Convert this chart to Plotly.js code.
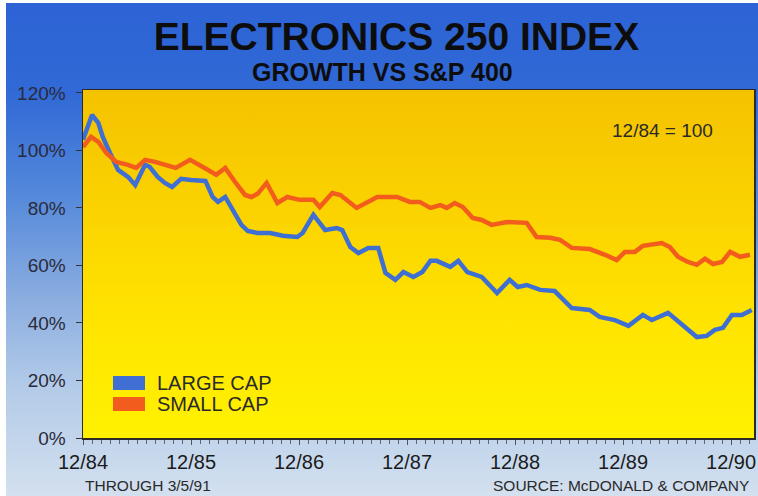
<!DOCTYPE html>
<html>
<head>
<meta charset="utf-8">
<script src="https://cdn.plot.ly/plotly-3.0.1.min.js"></script>
<style>
  html, body { margin: 0; padding: 0; background: #ffffff; }
  #wrap { position: relative; width: 758px; height: 496px; overflow: hidden; background: #ffffff; }
  #bg { position: absolute; left: 6px; top: 3px; right: 0; bottom: 0;
        background: linear-gradient(to bottom, #2d63d5 0%, #3169d6 18%, #5287da 38%, #86aadf 58%, #b3cbe8 78%, #d3e0ef 100%); }
  #chart { position: absolute; left: 0; top: 0; width: 758px; height: 496px; }
</style>
</head>
<body>
<div id="wrap"><div id="bg"></div><div id="chart"></div></div>
<script>
// months since 12/84
const largeMonths = [0,1.0,1.7,2.2,3.0,3.9,5.0,5.8,6.9,7.4,8.3,9.1,9.9,10.9,12.0,13.6,14.4,15.0,15.8,16.4,17.6,18.3,19.4,20.8,22.2,23.8,24.4,25.6,26.9,28.2,28.8,29.7,30.6,31.7,32.8,33.6,34.7,35.6,36.7,37.7,38.6,39.3,40.8,41.7,42.7,44.3,46.0,47.4,48.3,49.3,50.8,52.4,54.3,56.3,57.4,59.1,60.6,62.2,63.2,65.0,66.6,68.2,69.3,70.2,71.1,72.1,73.2,74.3];
const largeCap = [103.7,112.3,109.6,104.7,99.1,93.2,90.8,88.0,95.0,94.3,90.8,88.7,87.3,90.1,89.7,89.4,83.8,82.1,83.8,80.3,74.1,72.0,71.3,71.3,70.3,69.9,71.3,77.6,72.3,73.0,72.3,66.4,64.3,66.1,66.1,57.4,55.0,57.7,56.0,57.7,61.6,61.6,59.5,61.6,57.7,56.0,50.4,55.0,52.5,53.2,51.5,51.1,45.2,44.5,42.1,41.0,39.0,42.8,41.0,43.5,39.3,35.1,35.5,37.6,38.3,42.8,42.8,44.5];
const smallMonths = [0,0.9,1.7,2.6,3.7,5.0,5.9,6.9,8.0,9.1,10.3,11.9,13.0,13.9,14.8,15.8,16.9,18.0,18.7,19.4,20.4,21.6,22.7,24.1,25.6,26.3,27.7,28.6,30.4,32.7,34.9,36.3,37.4,38.6,39.7,40.4,41.3,42.2,43.3,44.3,45.4,47.1,49.3,50.4,51.9,53.0,54.3,56.3,58.0,59.3,60.2,61.3,62.2,63.2,64.3,65.2,66.1,67.2,68.2,69.1,70.0,71.0,71.9,73.0,74.1];
const smallCap = [101.2,104.7,103.0,99.1,96.0,95.0,93.9,96.7,96.0,95.0,93.9,96.7,95.0,93.2,91.5,93.9,89.0,84.5,83.8,84.9,88.7,81.7,83.8,82.8,82.8,80.3,85.2,84.5,80.0,83.8,83.8,82.1,82.1,80.0,81.0,80.0,81.7,80.3,76.5,75.8,74.1,75.1,74.8,69.9,69.6,68.9,66.1,65.7,63.7,61.9,64.7,64.7,66.8,67.1,67.8,66.4,63.0,61.2,60.2,62.3,60.5,61.2,64.7,63.0,63.7];
const xTickVals = [0,12,24,36,48,60,72];
const xTickText = ['12/84','12/85','12/86','12/87','12/88','12/89','12/90'];
const yTickVals = [0,20,40,60,80,100,120];
const yTickText = ['0%','20%','40%','60%','80%','100%','120%'];
const seriesNames = ['LARGE CAP','SMALL CAP'];

const BLUE = '#3f6fd2';
const ORANGE = '#f25c1c';
const FONT = 'Liberation Sans, Arial, sans-serif';
const INK = '#1b1b1b';

const grad = "<svg xmlns='http://www.w3.org/2000/svg' viewBox='0 0 10 100' width='10' height='100' preserveAspectRatio='none'>" +
  "<defs><linearGradient id='g' x1='0' y1='0' x2='0' y2='1'>" +
  "<stop offset='0' stop-color='#f4c200'/><stop offset='0.35' stop-color='#fbd300'/>" +
  "<stop offset='0.7' stop-color='#ffe600'/><stop offset='1' stop-color='#fff100'/>" +
  "</linearGradient></defs><rect x='0' y='0' width='10' height='100' fill='url(#g)'/></svg>";
const gradURI = 'data:image/svg+xml;charset=utf-8,' + encodeURIComponent(grad);

const traces = [
  { x: largeMonths, y: largeCap, name: seriesNames[0], type: 'scatter', mode: 'lines',
    line: { color: BLUE, width: 4.5 }, showlegend: false, hoverinfo: 'skip' },
  { x: smallMonths, y: smallCap, name: seriesNames[1], type: 'scatter', mode: 'lines',
    line: { color: ORANGE, width: 4.5 }, showlegend: false, hoverinfo: 'skip' }
];

const layout = {
  width: 758, height: 496,
  margin: { l: 83, r: 4, t: 90, b: 58, pad: 0 },
  paper_bgcolor: 'rgba(0,0,0,0)',
  plot_bgcolor: 'rgba(0,0,0,0)',
  font: { family: FONT, color: INK },
  title: { text: '<b>ELECTRONICS 250 INDEX</b>', font: { family: FONT, size: 39, color: '#0d0d0d' },
           xref: 'container', yref: 'container', x: 0.523, y: 1 - 36.5/496, xanchor: 'center', yanchor: 'middle' },
  xaxis: {
    range: [0, 74.55], showgrid: false, zeroline: false,
    showline: true, linecolor: '#2a2a2a', linewidth: 1.5, mirror: true,
    tickmode: 'array', tickvals: xTickVals, ticktext: xTickText,
    ticks: 'outside', ticklen: 5, tickcolor: '#555', tickwidth: 1,
    tickfont: { family: FONT, size: 20, color: INK },
    minor: { dtick: 1, tick0: 0, ticks: 'outside', ticklen: 4, tickcolor: '#666', tickwidth: 1, showgrid: false },
    fixedrange: true
  },
  yaxis: {
    range: [0, 121], showgrid: false, zeroline: false,
    showline: true, linecolor: '#2a2a2a', linewidth: 1.5, mirror: true,
    tickmode: 'array', tickvals: yTickVals, ticktext: yTickText,
    ticks: 'outside', ticklen: 6, tickcolor: '#333', tickwidth: 1,
    ticklabelstandoff: 6,
    tickfont: { family: FONT, size: 19, color: '#2a2a3a' },
    fixedrange: true
  },
  images: [{
    source: gradURI, xref: 'x domain', yref: 'y domain', x: 0, y: 1, sizex: 1, sizey: 1,
    xanchor: 'left', yanchor: 'top', sizing: 'stretch', layer: 'below'
  }],
  shapes: [
    { type: 'rect', xref: 'x domain', yref: 'y domain', x0: 0.0447, x1: 0.0924, y0: 0.138, y1: 0.178,
      fillcolor: BLUE, line: { width: 0 } },
    { type: 'rect', xref: 'x domain', yref: 'y domain', x0: 0.0447, x1: 0.0924, y0: 0.0776, y1: 0.1178,
      fillcolor: ORANGE, line: { width: 0 } }
  ],
  annotations: [
    { text: '<b>GROWTH VS S&P 400</b>', xref: 'paper', yref: 'paper', x: 0.447, y: 1.0517,
      xanchor: 'center', yanchor: 'middle', showarrow: false, font: { family: FONT, size: 25, color: '#0d0d0d' } },
    { text: '12/84 = 100', xref: 'paper', yref: 'paper', x: 0.863, y: 0.885,
      xanchor: 'center', yanchor: 'middle', showarrow: false, font: { family: FONT, size: 19, color: '#2a2a2a' } },
    { text: seriesNames[0], xref: 'paper', yref: 'paper', x: 0.1073, y: 0.157,
      xanchor: 'left', yanchor: 'middle', showarrow: false, font: { family: FONT, size: 20, color: '#2a2a2a' } },
    { text: seriesNames[1], xref: 'paper', yref: 'paper', x: 0.1073, y: 0.098,
      xanchor: 'left', yanchor: 'middle', showarrow: false, font: { family: FONT, size: 20, color: '#2a2a2a' } },
    { text: 'THROUGH 3/5/91', xref: 'paper', yref: 'paper', x: 0, y: -0.136,
      xanchor: 'left', yanchor: 'middle', showarrow: false, font: { family: FONT, size: 15.5, color: '#2a2a2a' } },
    { text: 'SOURCE: McDONALD & COMPANY', xref: 'paper', yref: 'paper', x: 0.9955, y: -0.136,
      xanchor: 'right', yanchor: 'middle', showarrow: false, font: { family: FONT, size: 15.5, color: '#2a2a2a' } }
  ]
};

Plotly.newPlot('chart', traces, layout, { displayModeBar: false, staticPlot: true });
</script>
</body>
</html>
